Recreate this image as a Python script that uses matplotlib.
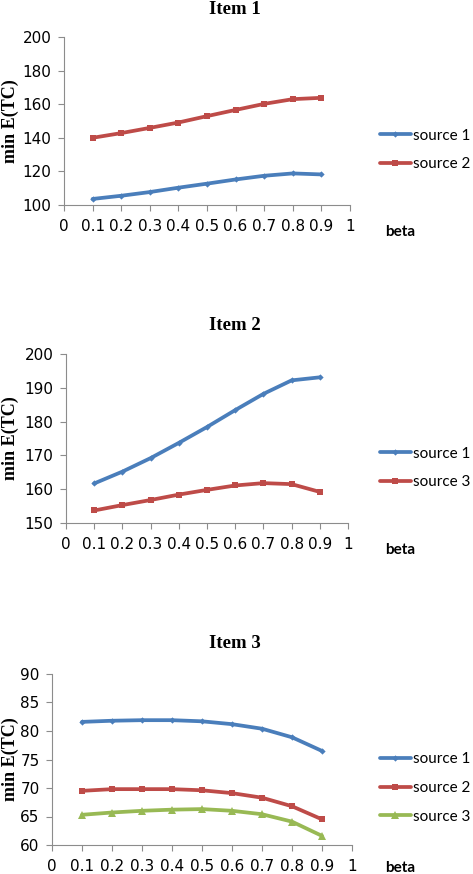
import matplotlib.pyplot as plt
import numpy as np

# beta values shared by all three panels
beta = [0.1, 0.2, 0.3, 0.4, 0.5, 0.6, 0.7, 0.8, 0.9]

# Item 1
item1_source1 = [103.6, 105.5, 107.7, 110.3, 112.7, 115.2, 117.4, 118.8, 118.2]
item1_source2 = [140.0, 142.8, 145.9, 149.1, 152.9, 156.6, 160.2, 163.0, 163.8]

# Item 2
item2_source1 = [161.7, 165.2, 169.2, 173.7, 178.4, 183.4, 188.2, 192.2, 193.1]
item2_source3 = [153.7, 155.3, 156.8, 158.4, 159.8, 161.1, 161.8, 161.5, 159.2]

# Item 3
item3_source1 = [81.6, 81.8, 81.9, 81.9, 81.7, 81.2, 80.4, 78.9, 76.5]
item3_source2 = [69.5, 69.8, 69.8, 69.8, 69.6, 69.1, 68.3, 66.8, 64.5]
item3_source3 = [65.3, 65.7, 66.0, 66.2, 66.3, 66.0, 65.4, 64.1, 61.6]

x_ticks = [0, 0.1, 0.2, 0.3, 0.4, 0.5, 0.6, 0.7, 0.8, 0.9, 1]
x_ticklabels = ["0", "0.1", "0.2", "0.3", "0.4", "0.5", "0.6", "0.7", "0.8", "0.9", "1"]

BLUE = "#4A7EBB"
RED = "#BE4B48"
GREEN = "#98B954"
STYLE = {
    "blue": dict(color=BLUE, marker="D", markersize=3.2),
    "red": dict(color=RED, marker="s", markersize=5),
    "green": dict(color=GREEN, marker="^", markersize=5.5),
}

TICKFONT = ["DejaVu Sans"]
SANS = ["Lato", "DejaVu Sans"]
SERIF = ["Liberation Serif", "DejaVu Serif"]

W, H = 473, 874
fig = plt.figure(figsize=(W / 100, H / 100), dpi=100)


def px_axes(left, top, right, bottom):
    return fig.add_axes([left / W, 1 - bottom / H, (right - left) / W, (bottom - top) / H])


def panel(box, title, title_y, series, ylim, yticks, legend_y, beta_y):
    ax = px_axes(*box)
    for name, vals, style_name in series:
        st = STYLE[style_name]
        ax.plot(beta, vals, color=st["color"], lw=2.7, marker=st["marker"],
                markersize=st["markersize"], markeredgewidth=0, label=name,
                solid_joinstyle="round", solid_capstyle="round")
    ax.set_xlim(0, 1)
    ax.set_ylim(*ylim)
    ax.set_yticks(yticks)
    ax.set_yticklabels([str(v) for v in yticks], family=TICKFONT, fontsize=11)
    ax.set_xticks(x_ticks)
    ax.set_xticklabels(x_ticklabels, family=TICKFONT, fontsize=11)
    for s in ["top", "right"]:
        ax.spines[s].set_visible(False)
    for s in ["left", "bottom"]:
        ax.spines[s].set_color("#8c8c8c")
        ax.spines[s].set_linewidth(0.8)
    ax.tick_params(axis="both", direction="out", length=4, width=0.8, color="#8c8c8c",
                   labelcolor="black", pad=5)
    ax.tick_params(axis="x", pad=6)
    # y label placed by hand, like the reference, close to the left edge
    fig.text(10 / W, 1 - (box[1] + box[3]) / 2 / H, "min E(TC)", rotation=90,
             ha="center", va="center", family=SERIF, fontsize=13, fontweight="bold")
    fig.text(235 / W, 1 - title_y / H, title, ha="center", va="center",
             family=SERIF, fontsize=13.5, fontweight="bold")
    fig.text(400 / W, 1 - beta_y / H, "beta", ha="center", va="center",
             family=SANS, fontsize=11, fontweight="bold")
    ax.legend(loc="center left", bbox_to_anchor=(380 / W, 1 - legend_y / H),
              bbox_transform=fig.transFigure, frameon=False, prop={"family": SANS, "size": 11},
              handlelength=2.0, handletextpad=0.15, labelspacing=0.95, borderpad=0,
              borderaxespad=0)
    return ax


panel((64, 37, 350, 205), "Item 1", 9,
      [("source 1", item1_source1, "blue"), ("source 2", item1_source2, "red")],
      (100, 200), [100, 120, 140, 160, 180, 200], 150, 232)

panel((66, 354, 348, 523), "Item 2", 325,
      [("source 1", item2_source1, "blue"), ("source 3", item2_source3, "red")],
      (150, 200), [150, 160, 170, 180, 190, 200], 468, 550)

panel((52, 674, 352, 845), "Item 3", 643,
      [("source 1", item3_source1, "blue"), ("source 2", item3_source2, "red"),
       ("source 3", item3_source3, "green")],
      (60, 90), [60, 65, 70, 75, 80, 85, 90], 788, 868)

fig.savefig("out.png", dpi=100, facecolor="white")
